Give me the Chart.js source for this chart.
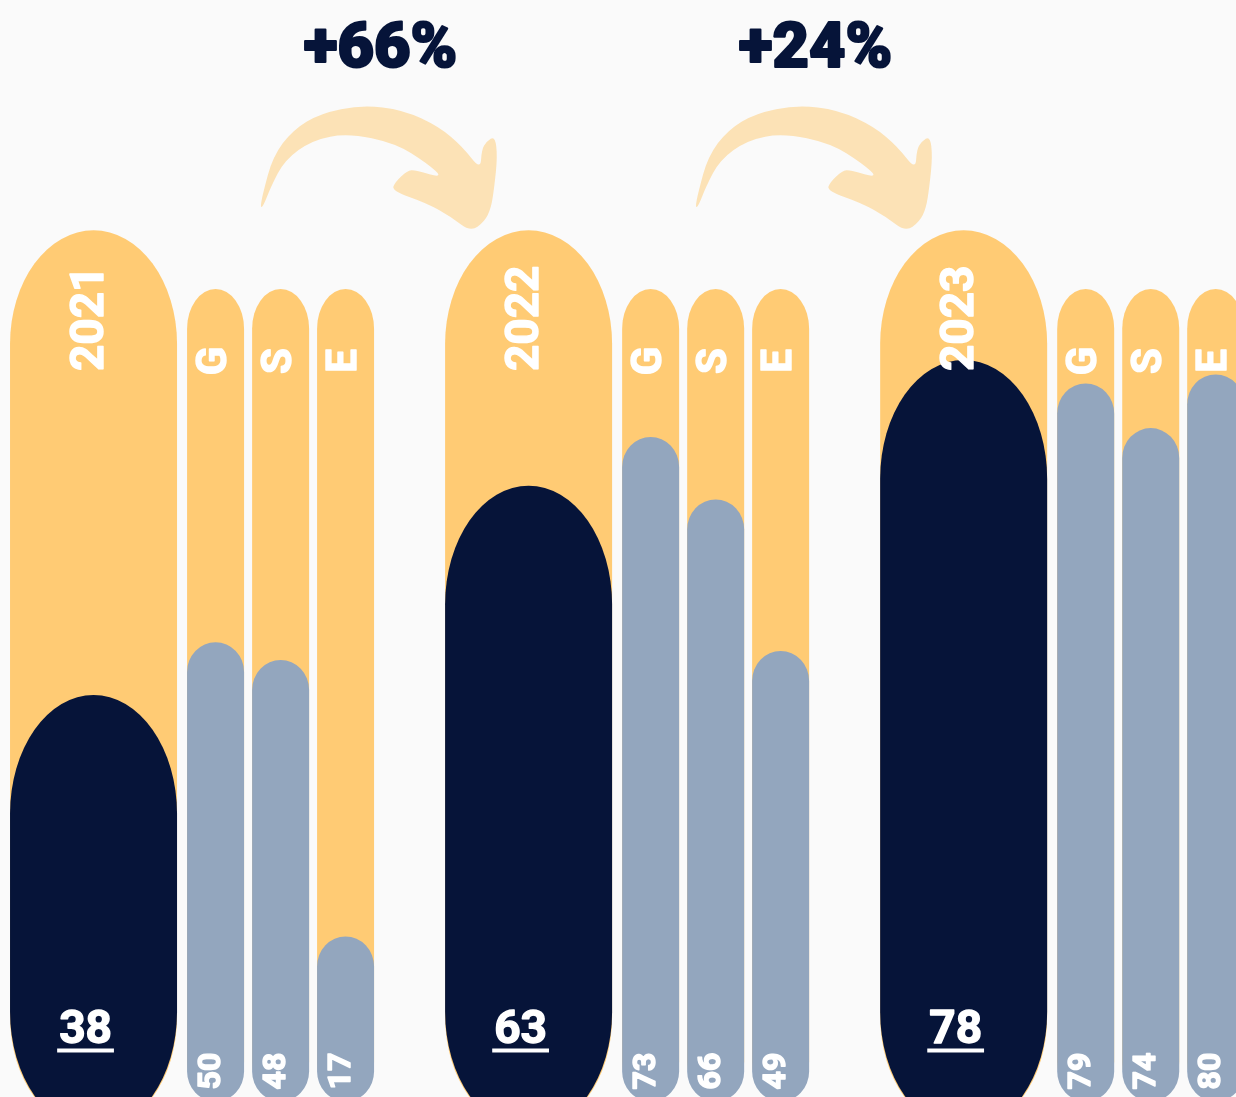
<!DOCTYPE html>
<html>
<head>
<meta charset="utf-8">
<title>ESG score 2021-2023</title>
<script src="https://cdn.jsdelivr.net/npm/chart.js@4.4.0/dist/chart.umd.min.js"></script>
<style>
  html, body { margin: 0; padding: 0; background: #fafafa; overflow: hidden; }
  #wrap { width: 1236px; height: 1097px; }
</style>
</head>
<body>
<div id="wrap"><canvas id="esgChart" width="1236" height="1097"></canvas></div>
<script>
// data
const years = ['2021', '2022', '2023'];
const pillars = ['G', 'S', 'E'];
const totalScores = [38, 63, 78];
const gScores = [50, 73, 79];
const sScores = [48, 66, 74];
const eScores = [17, 49, 80];

const pillarScores = [gScores, sScores, eScores];

// look
const NAVY = '#061439';
const GREY = '#93a6be';
const YELLOW = '#ffcb74';
const ARROW = '#fce2b6';
const FONT = 'Roboto, "Liberation Sans", sans-serif';

// layout (axis units)
const yearTrack = 93.5;      // top of the big yellow pill
const pillarTrack = 89.6;    // top of the small yellow pills
const pillarOffsets = [0.2805, 0.43, 0.5793]; // G/S/E inside a year group

function points(values, shift) {
    return values.map((v, i) => ({ x: i + shift, y: v }));
}

const datasets = [
    { label: 'Total', role: 'total', data: points(totalScores, 0), backgroundColor: NAVY,
      yAxisID: 'y', barThickness: 167, base: -14, order: 1, capRatio: 1.42 },
    { label: 'Year track', role: 'yearTrack', data: points(years.map(() => yearTrack), 0), backgroundColor: YELLOW,
      yAxisID: 'y', barThickness: 167, base: -14, order: 2, capRatio: 1.36 }
];
pillars.forEach((p, k) => {
    datasets.push({ label: p, role: 'pillar', pillar: p, data: points(pillarScores[k], pillarOffsets[k]),
        backgroundColor: GREY, yAxisID: 'y2', barThickness: 57, base: -1.5, order: 1, capRatio: 1.05 });
    datasets.push({ label: p + ' track', role: 'pillarTrack', pillar: p, data: points(years.map(() => pillarTrack), pillarOffsets[k]),
        backgroundColor: YELLOW, yAxisID: 'y2', barThickness: 57, base: -1.5, order: 2, capRatio: 1.4 });
});

// arrow outline, relative to the year pill centre of the group it leaves
const arrowShape = [
    [166.7, 207.3], [169.5, 193], [179.3, 156.7], [199.1, 130], [226.8, 113.3], [268.3, 105],
    [309.8, 110], [345.4, 126.7], [369.1, 146.7], [386.9, 170], [388.1, 150], [392.8, 141.7],
    [401.5, 136], [403.9, 156.7], [400.8, 186.7], [397.5, 208.3], [390.9, 221.7], [377, 231.7],
    [357.3, 216.7], [333.5, 203.3], [298, 190.7], [301.9, 181.7], [313.8, 170.7], [321.7, 170],
    [350.1, 178.3], [333.5, 163.3], [301.9, 143.3], [254.5, 133.3], [218.9, 140], [191.2, 160],
    [177.4, 186.7], [169.5, 206.7]
];

function capsule(ctx, cx, top, bottom, w, ratio) {
    const rx = w / 2;
    const ry = Math.min(rx * ratio, (bottom - top) / 2);
    ctx.beginPath();
    ctx.ellipse(cx, top + ry, rx, ry, 0, Math.PI, 2 * Math.PI);
    ctx.ellipse(cx, bottom - ry, rx, ry, 0, 0, Math.PI);
    ctx.closePath();
    ctx.fill();
}

// heavy text: fill plus a thin stroke in the same colour
function heavyText(ctx, text, x, y, weight) {
    ctx.lineWidth = weight;
    ctx.lineJoin = 'round';
    ctx.strokeStyle = ctx.fillStyle;
    ctx.strokeText(text, x, y);
    ctx.fillText(text, x, y);
}

function upText(ctx, text, x, y, font, align) {
    ctx.save();
    ctx.translate(x, y);
    ctx.rotate(-Math.PI / 2);
    ctx.font = font;
    ctx.textAlign = align;
    ctx.textBaseline = 'middle';
    heavyText(ctx, text, 0, 0, 1.4);
    ctx.restore();
}

function drawArrow(ctx, ox) {
    const pts = arrowShape.map(p => [p[0] + ox, p[1]]);
    ctx.beginPath();
    const n = pts.length;
    const mid = (a, b) => [(a[0] + b[0]) / 2, (a[1] + b[1]) / 2];
    let m = mid(pts[n - 1], pts[0]);
    ctx.moveTo(m[0], m[1]);
    for (let i = 0; i < n; i++) {
        const p = pts[i];
        const q = mid(p, pts[(i + 1) % n]);
        ctx.quadraticCurveTo(p[0], p[1], q[0], q[1]);
    }
    ctx.closePath();
    ctx.fill();
}

const pillPlugin = {
    id: 'pills',
    beforeDatasetDraw(chart, args) {
        const ds = chart.data.datasets[args.index];
        const ctx = chart.ctx;
        ctx.save();
        ctx.fillStyle = ds.backgroundColor;
        args.meta.data.forEach(bar => {
            capsule(ctx, bar.x, bar.y, bar.base, bar.width, ds.capRatio);
        });
        ctx.restore();
        return false;
    },
    afterDatasetsDraw(chart) {
        const ctx = chart.ctx;
        ctx.save();
        ctx.fillStyle = '#ffffff';
        chart.data.datasets.forEach((ds, di) => {
            chart.getDatasetMeta(di).data.forEach((bar, i) => {
                if (ds.role === 'yearTrack') {
                    upText(ctx, years[i], bar.x - 2, bar.y + 88, '700 46px ' + FONT, 'center');
                } else if (ds.role === 'pillarTrack') {
                    upText(ctx, ds.pillar, bar.x, bar.y + 72, '700 42px ' + FONT, 'center');
                } else if (ds.role === 'pillar') {
                    const v = ds.data[i].y;
                    upText(ctx, String(v), bar.x - 4, bar.base - 12, '700 32px ' + FONT, 'left');
                } else if (ds.role === 'total') {
                    const v = String(totalScores[i]);
                    const cx = bar.x - 8;
                    const by = bar.base - 87;
                    ctx.font = '700 46px ' + FONT;
                    ctx.textAlign = 'center';
                    ctx.textBaseline = 'alphabetic';
                    heavyText(ctx, v, cx, by, 1.4);
                    const w = ctx.measureText(v).width;
                    ctx.fillRect(cx - w / 2 - 2, by + 5, w + 4, 4);
                }
            });
        });

        // growth arrows between the years
        const yearBars = chart.getDatasetMeta(0).data;
        for (let i = 0; i < years.length - 1; i++) {
            const ox = yearBars[i].x;
            ctx.fillStyle = ARROW;
            drawArrow(ctx, ox);
            const pct = Math.round((totalScores[i + 1] / totalScores[i] - 1) * 100);
            ctx.fillStyle = NAVY;
            ctx.font = '900 63px ' + FONT;
            ctx.textAlign = 'center';
            ctx.textBaseline = 'alphabetic';
            heavyText(ctx, '+' + pct + '%', ox + 287, 67, 2.2);
        }
        ctx.restore();
    }
};

new Chart(document.getElementById('esgChart'), {
    type: 'bar',
    data: { datasets: datasets },
    options: {
        responsive: false,
        animation: false,
        layout: { padding: 0 },
        datasets: { bar: { grouped: false } },
        plugins: {
            legend: { display: false },
            tooltip: { enabled: false }
        },
        scales: {
            x: { type: 'linear', display: false, offset: false, min: -0.215, max: 2.626 },
            y: { display: false, stacked: false, min: -10, max: 121 },
            y2: { display: false, stacked: false, min: -1, max: 122, position: 'right' }
        }
    },
    plugins: [pillPlugin]
});
</script>
</body>
</html>
